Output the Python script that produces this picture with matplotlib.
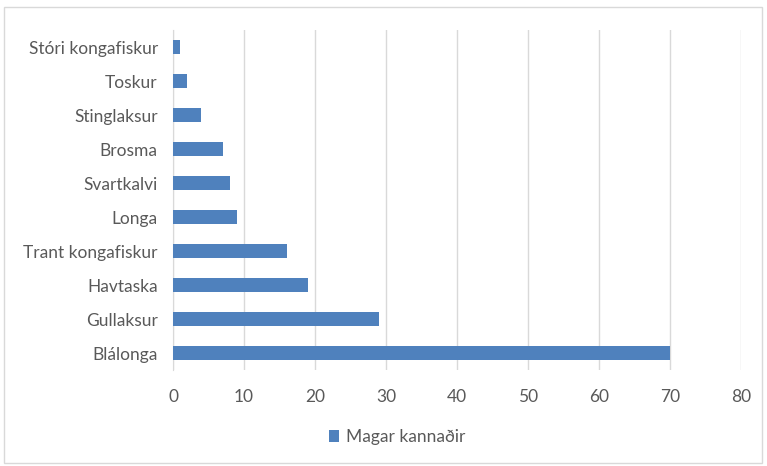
import matplotlib.pyplot as plt
from matplotlib.patches import Rectangle

# data (bottom to top)
species = ["Blálonga", "Gullaksur", "Havtaska", "Trant kongafiskur", "Longa",
           "Svartkalvi", "Brosma", "Stinglaksur", "Toskur", "Stóri kongafiskur"]
counts = [70, 29, 19, 16, 9, 8, 7, 4, 2, 1]
xticks = [0, 10, 20, 30, 40, 50, 60, 70, 80]

BLUE = "#4f81bd"
TEXT = "#595959"
GRID = "#d9d9d9"

plt.rcParams['font.family'] = ['Lato', 'DejaVu Sans']

fig = plt.figure(figsize=(7.67, 4.66), dpi=100)
ax = fig.add_axes([0.2256, 0.206, 0.7405, 0.7296])

ax.barh(range(len(species)), counts, height=0.4, color=BLUE, label="Magar kannaðir",
        zorder=3)

ax.set_xlim(0, 80)
ax.set_ylim(-0.5, len(species) - 0.5)
ax.set_xticks(xticks)
ax.set_yticks(range(len(species)))
ax.set_yticklabels(species)
ax.grid(axis="x", color=GRID, linewidth=1, zorder=0)
ax.tick_params(axis="both", length=0, colors=TEXT, labelsize=12.5)
ax.tick_params(axis="y", pad=11)
ax.tick_params(axis="x", pad=14)
for s in ["top", "right", "bottom"]:
    ax.spines[s].set_visible(False)
ax.spines["left"].set_color(GRID)

leg = fig.legend(loc="center", bbox_to_anchor=(0.518, 0.062), frameon=False,
                 fontsize=12.5, handlelength=0.6, handleheight=0.6, handletextpad=0.4)
for t in leg.get_texts():
    t.set_color(TEXT)

# outer chart border
fig.patches.append(Rectangle((0.005, 0.007), 0.988, 0.978, transform=fig.transFigure,
                             fill=False, edgecolor=GRID, linewidth=1))

fig.savefig("out.png", dpi=100)
